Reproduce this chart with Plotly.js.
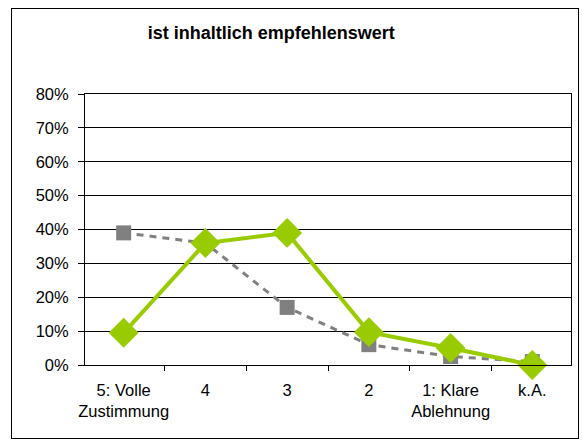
<!DOCTYPE html>
<html><head><meta charset="utf-8">
<script src="https://cdn.plot.ly/plotly-3.0.1.min.js"></script>
<style>
html,body{margin:0;padding:0;background:#fff;}
#frame{position:absolute;left:11px;top:8px;width:566px;height:429px;border:1px solid #000;}
#chart{width:566px;height:429px;}
</style></head>
<body><div id="frame"><div id="chart"></div></div>
<script>
const categories = ["5: Volle<br>Zustimmung", "4", "3", "2", "1: Klare<br>Ablehnung", "k.A."];
const grayValues = [39, 36, 17, 6, 2.5, 1];
const greenValues = [9.5, 36, 39, 9.7, 5, 0];
const yTickVals = [0, 10, 20, 30, 40, 50, 60, 70, 80];
const yTickText = ["0%", "10%", "20%", "30%", "40%", "50%", "60%", "70%", "80%"];

const font = "Liberation Sans, Arial, sans-serif";
const traces = [
  {x: categories, y: grayValues, type: "scatter", mode: "lines+markers",
   line: {color: "#808080", width: 3, dash: "7px,6px"},
   marker: {symbol: "square", size: 15, color: "#808080"}, cliponaxis: false},
  {x: categories, y: greenValues, type: "scatter", mode: "lines+markers",
   line: {color: "#99CC00", width: 4},
   marker: {symbol: "diamond", size: 23, color: "#99CC00"}, cliponaxis: false}
];
const layout = {
  width: 566, height: 429,
  margin: {l: 73, r: 7, t: 85, b: 73},
  paper_bgcolor: "#fff", plot_bgcolor: "#fff",
  showlegend: false,
  title: {text: "<b>ist inhaltlich empfehlenswert</b>", font: {family: font, size: 18, color: "#000"}, x: 0.458, xanchor: "center", y: 0.945, yanchor: "middle"},
  xaxis: {type: "category", showgrid: false, showline: true, linecolor: "#000", linewidth: 1, mirror: true,
          ticks: "outside", tickson: "boundaries", ticklen: 5, tickcolor: "#000", tickangle: 0, ticklabelstandoff: 10,
          tickfont: {family: font, size: 16.5, color: "#000"}, zeroline: false},
  yaxis: {range: [0, 80], tickvals: yTickVals, ticktext: yTickText, showgrid: true, gridcolor: "#000", gridwidth: 1,
          showline: true, linecolor: "#000", linewidth: 1, mirror: true, ticks: "outside", ticklen: 6, tickcolor: "#000",
          ticklabelstandoff: 6,
          tickfont: {family: font, size: 16.5, color: "#000"}, zeroline: false}
};
Plotly.newPlot("chart", traces, layout, {displayModeBar: false, staticPlot: true});
</script></body></html>
